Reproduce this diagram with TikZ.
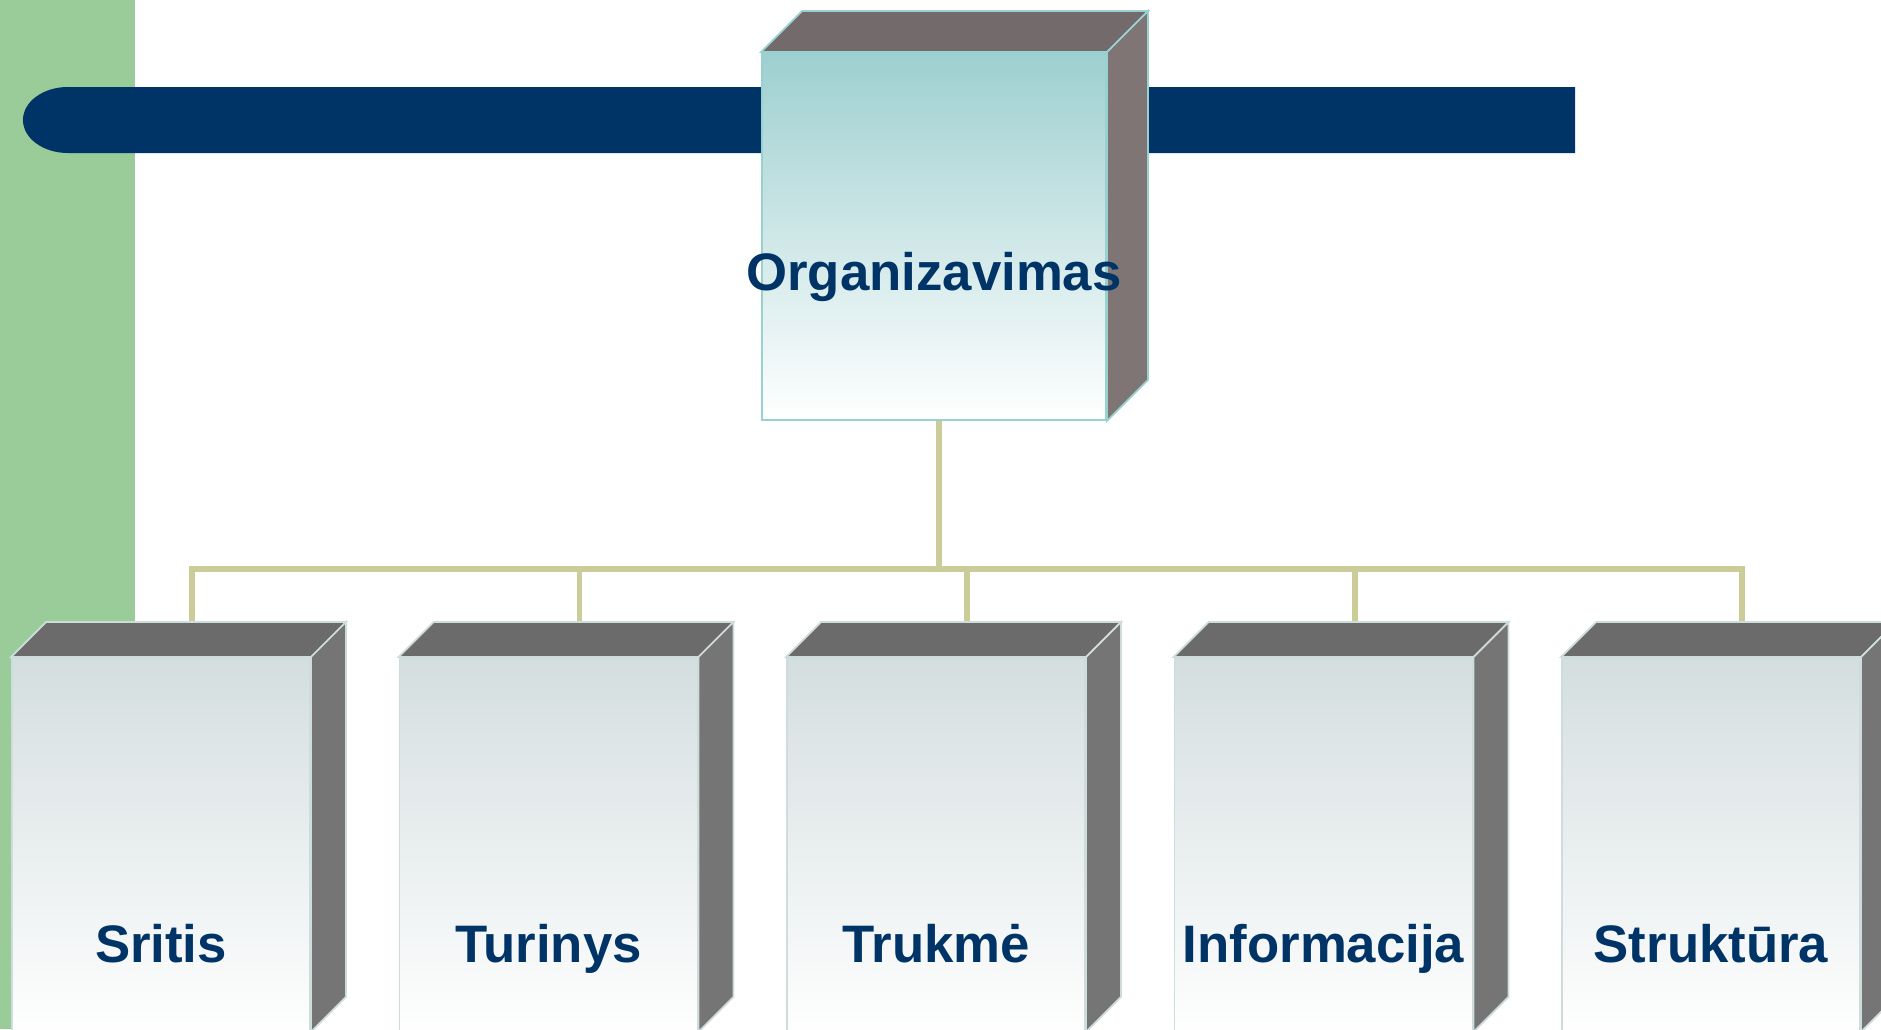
\documentclass[tikz,border=0pt]{standalone}
\usepackage{fontspec}
\setmainfont{Liberation Sans}
\usepackage{tikz}
\usetikzlibrary{calc}
\definecolor{StripGreen}{HTML}{99CC99}
\definecolor{BarNavy}{HTML}{003366}
\definecolor{LinkKhaki}{HTML}{CCCC99}
\definecolor{OrgTeal}{HTML}{9ECFD0}
\definecolor{OrgEdge}{HTML}{99D0D0}
\definecolor{OrgTopGrey}{HTML}{736B6B}
\definecolor{OrgSideGrey}{HTML}{7F7575}
\definecolor{SubBlue}{HTML}{D4DEDF}
\definecolor{SubEdge}{HTML}{CFDCDC}
\definecolor{SubTopGrey}{HTML}{6B6B6B}
\definecolor{SubSideGrey}{HTML}{767575}
\newcommand{\cubesides}[3]{
  \filldraw[#3top] (#1.north west) -- ++(#2,-#2) -- ([shift={(#2,-#2)}]#1.north east) -- (#1.north east) -- cycle;
  \filldraw[#3side] (#1.north east) -- ++(#2,-#2) -- ([shift={(#2,-#2)}]#1.south east) -- (#1.south east) -- cycle;
}
\tikzset{orgfront/.style={rectangle, inner sep=0pt, minimum width=3.44cm, minimum height=3.67cm, draw=OrgEdge, line width=0.5pt, top color=OrgTeal, bottom color=white}}
\tikzset{orgtop/.style={fill=OrgTopGrey, draw=OrgEdge, line width=0.5pt}}
\tikzset{orgside/.style={fill=OrgSideGrey, draw=OrgEdge, line width=0.5pt}}
\tikzset{subfront/.style={rectangle, inner sep=0pt, minimum width=2.98cm, minimum height=3.73cm, draw=SubEdge, line width=0.5pt, top color=SubBlue, bottom color=white!98!SubBlue}}
\tikzset{subtop/.style={fill=SubTopGrey, draw=SubEdge, line width=0.5pt}}
\tikzset{subside/.style={fill=SubSideGrey, draw=SubEdge, line width=0.5pt}}
\tikzset{boxlabel/.style={inner sep=0pt, anchor=base, text=BarNavy, font=\fontsize{15}{18}\selectfont\bfseries}}
\tikzset{link/.style={draw=LinkKhaki, line width=1.7pt}}

\begin{document}
\begin{tikzpicture}[x=0.01cm, y=-0.01cm]
        \useasboundingbox (0,0) rectangle (1881,1029);
        \fill[StripGreen] (0,0) rectangle (135,1029);
        \fill[BarNavy] (68,87) -- (1575,87) -- (1575,153) -- (68,153) arc[start angle=270, end angle=90, x radius=0.45cm, y radius=0.33cm] -- cycle;

        \node (org) at (934,236.5) [orgfront] {};
        \cubesides{org}{41}{org}
        \node (orglbl) at ([shift={(0,53.5)}]org.center) [boxlabel] {Organizavimas};

        \node (sritis) at (161,844.5) [subfront] {};
        \node (turinys) at (548.5,844.5) [subfront] {};
        \node (trukme) at (936,844.5) [subfront] {};
        \node (informacija) at (1323.5,844.5) [subfront] {};
        \node (struktura) at (1711,844.5) [subfront] {};

        % connectors, ends hidden under the box tops
        \coordinate (orgout) at ([xshift=0.05cm]org.south);
        \path (orgout) ++(0,148) coordinate (bus);
        \coordinate (sritisin) at ([shift={(31,-34)}]sritis.north);
        \coordinate (turinysin) at ([shift={(31,-34)}]turinys.north);
        \coordinate (trukmein) at ([shift={(31,-34)}]trukme.north);
        \coordinate (informacijain) at ([shift={(31,-34)}]informacija.north);
        \coordinate (strukturain) at ([shift={(31,-34)}]struktura.north);
        \draw[link] (orgout) -- (bus);
        \draw[link] (sritisin) |- (bus) -| (strukturain);
        \draw[link] (turinysin) -- (turinysin |- bus);
        \draw[link] (trukmein) -- (trukmein |- bus);
        \draw[link] (informacijain) -- (informacijain |- bus);

        \cubesides{sritis}{35}{sub}
        \cubesides{turinys}{35}{sub}
        \cubesides{trukme}{35}{sub}
        \cubesides{informacija}{35}{sub}
        \cubesides{struktura}{35}{sub}

        \node (sritislbl) at ([shift={(0,117.5)}]sritis.center) [boxlabel] {Sritis};
        \node (turinyslbl) at ([shift={(0,117.5)}]turinys.center) [boxlabel] {Turinys};
        \node (trukmelbl) at ([shift={(0,117.5)}]trukme.center) [boxlabel] {Trukmė};
        \node (informacijalbl) at ([shift={(0,117.5)}]informacija.center) [boxlabel] {Informacija};
        \node (strukturalbl) at ([shift={(0,117.5)}]struktura.center) [boxlabel] {Struktūra};
\end{tikzpicture}
\end{document}
